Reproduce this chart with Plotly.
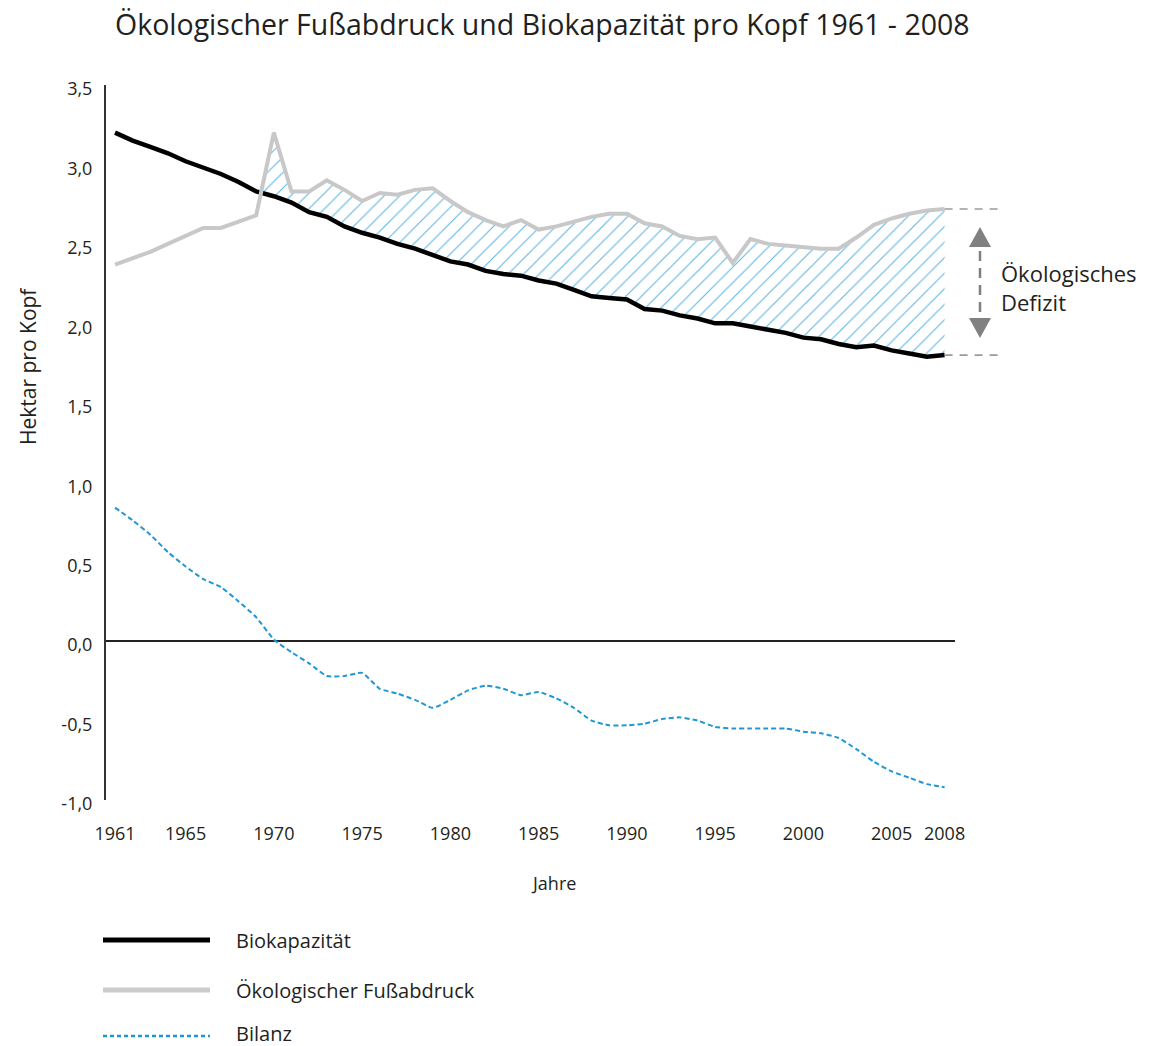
import plotly.graph_objects as go

# ---------------- data ----------------
years = list(range(1961, 2009))
biokapazitaet = [3.20, 3.15, 3.11, 3.07, 3.02, 2.98, 2.94, 2.89, 2.83, 2.80,
                 2.76, 2.70, 2.67, 2.61, 2.57, 2.54, 2.50, 2.47, 2.43, 2.39,
                 2.37, 2.33, 2.31, 2.30, 2.27, 2.25, 2.21, 2.17, 2.16, 2.15,
                 2.09, 2.08, 2.05, 2.03, 2.00, 2.00, 1.98, 1.96, 1.94, 1.91,
                 1.90, 1.87, 1.85, 1.86, 1.83, 1.81, 1.79, 1.80]
fussabdruck = [2.37, 2.41, 2.45, 2.50, 2.55, 2.60, 2.60, 2.64, 2.68, 3.20,
               2.83, 2.83, 2.90, 2.84, 2.77, 2.82, 2.81, 2.84, 2.85, 2.77,
               2.70, 2.65, 2.61, 2.65, 2.59, 2.61, 2.64, 2.67, 2.69, 2.69,
               2.63, 2.61, 2.55, 2.53, 2.54, 2.38, 2.53, 2.50, 2.49, 2.48,
               2.47, 2.47, 2.54, 2.62, 2.66, 2.69, 2.71, 2.72]
bilanz = [0.84, 0.76, 0.67, 0.56, 0.47, 0.39, 0.34, 0.25, 0.15, 0.01,
          -0.07, -0.14, -0.22, -0.22, -0.20, -0.30, -0.33, -0.37, -0.42, -0.37,
          -0.31, -0.28, -0.30, -0.34, -0.32, -0.36, -0.42, -0.50, -0.53, -0.53,
          -0.52, -0.49, -0.48, -0.50, -0.54, -0.55, -0.55, -0.55, -0.55, -0.57,
          -0.58, -0.61, -0.68, -0.76, -0.82, -0.86, -0.90, -0.92]

x_tickvals = [1961, 1965, 1970, 1975, 1980, 1985, 1990, 1995, 2000, 2005, 2008]
x_ticktext = [str(v) for v in x_tickvals]
y_tickvals = [-1.0, -0.5, 0.0, 0.5, 1.0, 1.5, 2.0, 2.5, 3.0, 3.5]
y_ticktext = ["-1,0", "-0,5", "0,0", "0,5", "1,0", "1,5", "2,0", "2,5", "3,0", "3,5"]

series_names = ["Biokapazität", "Ökologischer Fußabdruck", "Bilanz"]
title_text = "Ökologischer Fußabdruck und Biokapazität pro Kopf 1961 - 2008"
defizit_text = "Ökologisches<br>Defizit"

# ---------------- styles ----------------
FONT = "Open Sans"
TXT = "#231f20"
C_BIO = "#000000"
C_FP = "#c8c8c8"
C_BIL = "#1f97d4"
C_HATCH = "#5fb6e2"
C_ANN = "#808080"

OFF = 8  # page body margin
W, H = 1149 - OFF, 1046 - OFF
L, R, T, B = 106, 955, 85, 800  # plot area in screen pixels
XMIN, XMAX = 1960.49, 2008.59


def px(xp):
    return (xp - L) / (R - L)


def py(yp):
    return (B - yp) / (B - T)


def xdata_to_paper(x):
    return (x - XMIN) / (XMAX - XMIN)


# crossing point of the two series (start of the deficit area)
idx = next(i for i in range(1, len(years))
           if fussabdruck[i] > biokapazitaet[i] and fussabdruck[i - 1] <= biokapazitaet[i - 1])
d0 = fussabdruck[idx - 1] - biokapazitaet[idx - 1]
d1 = fussabdruck[idx] - biokapazitaet[idx]
t = -d0 / (d1 - d0)
xc = years[idx - 1] + t
yc = biokapazitaet[idx - 1] + t * (biokapazitaet[idx] - biokapazitaet[idx - 1])

fill_x = [xc] + years[idx:]
fill_low = [yc] + biokapazitaet[idx:]
fill_high = [yc] + fussabdruck[idx:]

fig = go.Figure()

fig.add_trace(go.Scatter(x=fill_x, y=fill_low, mode="lines",
                         line=dict(width=0, color="rgba(0,0,0,0)"),
                         showlegend=False, hoverinfo="skip"))
fig.add_trace(go.Scatter(x=fill_x, y=fill_high, mode="lines",
                         line=dict(width=0, color="rgba(0,0,0,0)"),
                         fill="tonexty", fillcolor="rgba(255,255,255,0)",
                         fillpattern=dict(shape="/", fgcolor=C_HATCH,
                                          bgcolor="rgba(255,255,255,0)",
                                          size=11, solidity=0.1,
                                          fillmode="replace"),
                         showlegend=False, hoverinfo="skip"))

fig.add_trace(go.Scatter(x=years, y=biokapazitaet, name=series_names[0], mode="lines",
                         line=dict(color=C_BIO, width=4.5)))
fig.add_trace(go.Scatter(x=years, y=fussabdruck, name=series_names[1], mode="lines",
                         line=dict(color=C_FP, width=4)))
fig.add_trace(go.Scatter(x=years, y=bilanz, name=series_names[2], mode="lines",
                         line=dict(color=C_BIL, width=2, dash="5px,3px",
                                   shape="spline", smoothing=0.5)))

shapes = []
annotations = []

# dashed guide lines for deficit
x0p = xdata_to_paper(years[-1])
for yv in (fussabdruck[-1], biokapazitaet[-1]):
    shapes.append(dict(type="line", xref="paper", yref="y",
                       x0=x0p, x1=px(1002), y0=yv, y1=yv,
                       line=dict(color="#9a9a9a", width=1.6, dash="8px,7px")))

# double arrow
shapes.append(dict(type="line", xref="paper", yref="paper",
                   x0=px(980), x1=px(980), y0=py(251), y1=py(314),
                   line=dict(color=C_ANN, width=2.5, dash="10px,7px")))
shapes.append(dict(type="path", xref="paper", yref="paper",
                   path=f"M {px(980)},{py(227)} L {px(969)},{py(247)} L {px(991)},{py(247)} Z",
                   fillcolor=C_ANN, line=dict(width=0)))
shapes.append(dict(type="path", xref="paper", yref="paper",
                   path=f"M {px(969)},{py(318)} L {px(991)},{py(318)} L {px(980)},{py(338)} Z",
                   fillcolor=C_ANN, line=dict(width=0)))

annotations.append(dict(xref="paper", yref="paper", x=px(999), y=py(287),
                        xanchor="left", yanchor="middle", align="left",
                        text=defizit_text, showarrow=False,
                        font=dict(family=FONT, size=22, color=TXT)))

# axis titles
annotations.append(dict(xref="paper", yref="paper", x=px(28), y=py(366),
                        text="Hektar pro Kopf", textangle=-90, showarrow=False,
                        xanchor="center", yanchor="middle",
                        font=dict(family=FONT, size=21, color=TXT)))
annotations.append(dict(xref="paper", yref="paper", x=px(553), y=py(883),
                        text="Jahre", showarrow=False,
                        xanchor="center", yanchor="middle",
                        font=dict(family=FONT, size=18, color=TXT)))

# custom legend
leg_rows = [(940, C_BIO, 5, "solid"), (990, "#cccccc", 5, "solid"), (1036, C_BIL, 2.5, "4px,3px")]
leg_text_y = [940, 990, 1033]
for (yy, col, wd, ds), ty, name in zip(leg_rows, leg_text_y, series_names):
    shapes.append(dict(type="line", xref="paper", yref="paper",
                       x0=px(103), x1=px(210), y0=py(yy), y1=py(yy),
                       line=dict(color=col, width=wd, dash=ds)))
    annotations.append(dict(xref="paper", yref="paper", x=px(234), y=py(ty),
                            text=name, showarrow=False, xanchor="left", yanchor="middle",
                            font=dict(family=FONT, size=20, color=TXT)))

fig.update_layout(
    width=W, height=H,
    margin=dict(l=L - OFF, r=W - (R - OFF), t=T - OFF, b=H - (B - OFF), pad=0),
    paper_bgcolor="white", plot_bgcolor="white",
    showlegend=False,
    font=dict(family=FONT, color=TXT),
    title=dict(text=title_text, xref="container", yref="container",
               x=(115 - OFF) / W, y=1 - (25 - OFF) / H, xanchor="left", yanchor="middle",
               font=dict(family=FONT, size=28.5, color=TXT)),
    shapes=shapes, annotations=annotations,
)

fig.update_xaxes(range=[XMIN, XMAX], showgrid=False, zeroline=False, showline=False,
                 tickmode="array", tickvals=x_tickvals, ticktext=x_ticktext,
                 ticks="", ticklabelstandoff=21,
                 tickfont=dict(family=FONT, size=18, color=TXT), fixedrange=True)
fig.update_yaxes(range=[-1.0, 3.5], showgrid=False,
                 zeroline=True, zerolinecolor="#222222", zerolinewidth=2,
                 showline=True, linecolor="#333333", linewidth=2,
                 tickmode="array", tickvals=y_tickvals, ticktext=y_ticktext,
                 ticks="", ticklabelstandoff=8, ticklabelshift=4,
                 tickfont=dict(family=FONT, size=18, color=TXT), fixedrange=True)

fig.write_html("out.html")
